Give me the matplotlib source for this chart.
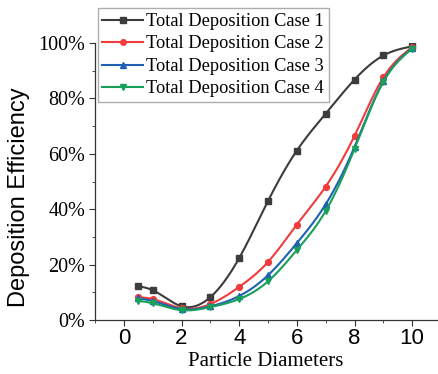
import matplotlib.pyplot as plt
import numpy as np
from matplotlib.ticker import FuncFormatter, MultipleLocator

diameters = [0.5, 1, 2, 3, 4, 5, 6, 7, 8, 9, 10]
case1 = [0.123, 0.108, 0.050, 0.083, 0.224, 0.430, 0.612, 0.745, 0.868, 0.955, 0.988]
case2 = [0.083, 0.076, 0.043, 0.058, 0.120, 0.210, 0.345, 0.482, 0.665, 0.876, 0.985]
case3 = [0.079, 0.069, 0.040, 0.050, 0.087, 0.162, 0.278, 0.418, 0.625, 0.862, 0.982]
case4 = [0.070, 0.061, 0.036, 0.047, 0.076, 0.140, 0.253, 0.394, 0.618, 0.860, 0.980]
labels = ["Total Deposition Case 1", "Total Deposition Case 2",
          "Total Deposition Case 3", "Total Deposition Case 4"]


def smooth(x, y, n=200):
    """Natural cubic spline through the points, only for drawing."""
    x = np.asarray(x, float)
    y = np.asarray(y, float)
    k = len(x)
    h = np.diff(x)
    A = np.zeros((k, k))
    b = np.zeros(k)
    A[0, 0] = A[-1, -1] = 1
    for i in range(1, k - 1):
        A[i, i - 1] = h[i - 1]
        A[i, i] = 2 * (h[i - 1] + h[i])
        A[i, i + 1] = h[i]
        b[i] = 6 * ((y[i + 1] - y[i]) / h[i] - (y[i] - y[i - 1]) / h[i - 1])
    m = np.linalg.solve(A, b)
    xs = np.linspace(x[0], x[-1], n)
    idx = np.clip(np.searchsorted(x, xs) - 1, 0, k - 2)
    x0, x1 = x[idx], x[idx + 1]
    hh = x1 - x0
    t0, t1 = x1 - xs, xs - x0
    ys = (m[idx] * t0**3 + m[idx + 1] * t1**3) / (6 * hh) \
        + (y[idx] / hh - m[idx] * hh / 6) * t0 \
        + (y[idx + 1] / hh - m[idx + 1] * hh / 6) * t1
    return xs, ys


plt.switch_backend("Agg")
fig = plt.figure(figsize=(4.38, 3.74), dpi=100)
ax = fig.add_axes([0.217, 0.144, 0.78, 0.741])

series = [
    (case1, "#3c3c3c", "s"),
    (case2, "#f03c3c", "o"),
    (case3, "#1f5fb4", "^"),
    (case4, "#16a05a", "v"),
]
for (vals, color, marker), label in zip(series, labels):
    xs, ys = smooth(diameters, vals)
    ax.plot(xs, ys, color=color, lw=1.5)
    ax.plot(diameters, vals, ls="none", marker=marker, ms=4.2, color=color)
    ax.plot([], [], color=color, lw=1.5, marker=marker, ms=4, label=label)

ax.set_xlim(-1, 10.85)
ax.set_ylim(0, 1.0)
ax.xaxis.set_major_locator(MultipleLocator(2))
ax.xaxis.set_minor_locator(MultipleLocator(1))
ax.yaxis.set_major_locator(MultipleLocator(0.2))
ax.yaxis.set_minor_locator(MultipleLocator(0.1))
ax.yaxis.set_major_formatter(FuncFormatter(lambda v, p: f"{v * 100:.0f}%"))

for side in ("top", "right"):
    ax.spines[side].set_visible(False)
for side in ("left", "bottom"):
    ax.spines[side].set_color("#333333")
    ax.spines[side].set_linewidth(0.9)
ax.tick_params(which="both", direction="out", color="#333333")
ax.tick_params(which="major", length=4)
ax.tick_params(which="minor", length=2.5)
ax.tick_params(axis="x", pad=2)
ax.tick_params(axis="y", pad=3)

for t in ax.get_xticklabels():
    t.set_family("Liberation Sans")
    t.set_fontsize(16)
for t in ax.get_yticklabels():
    t.set_family("Liberation Serif")
    t.set_fontsize(14.5)

ax.set_xlabel("Particle Diameters", family="Liberation Serif", fontsize=15, labelpad=1.5)
ax.set_ylabel("Deposition Efficiency", family="Liberation Sans", fontsize=17)
ax.yaxis.set_label_coords(-0.19, 0.445)

ax.legend(loc="upper left", bbox_to_anchor=(0.008, 1.125),
          prop={"family": "Liberation Serif", "size": 13.2},
          frameon=True, fancybox=False, edgecolor="#999999",
          handlelength=2.2, handletextpad=0.2, borderpad=0.25,
          labelspacing=0.3, borderaxespad=0)

fig.savefig("out.png", dpi=100)
